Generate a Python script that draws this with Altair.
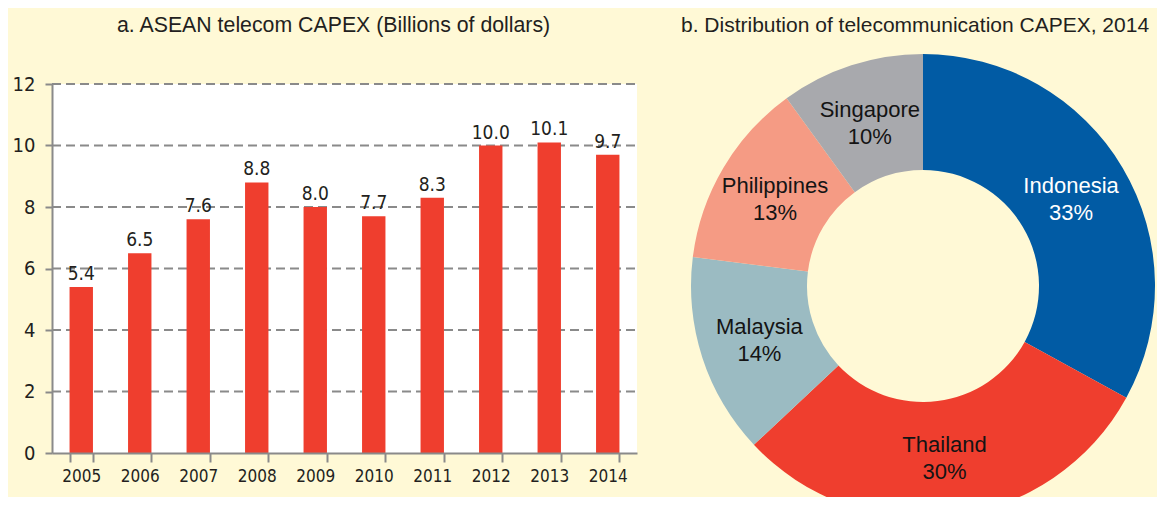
import altair as alt
import pandas as pd

# ---- data ----
years = ["2005", "2006", "2007", "2008", "2009", "2010", "2011", "2012", "2013", "2014"]
capex = [5.4, 6.5, 7.6, 8.8, 8.0, 7.7, 8.3, 10.0, 10.1, 9.7]
y_ticks = [0, 2, 4, 6, 8, 10, 12]
grid_values = [2, 4, 6, 8, 10, 12]

countries = ["Indonesia", "Thailand", "Malaysia", "Philippines", "Singapore"]
shares = [33, 30, 14, 13, 10]
country_colors = ["#015BA4", "#EF3E2E", "#9BBBC2", "#F59B84", "#A8A9AD"]
label_colors = ["#FFFFFF", "#141414", "#141414", "#141414", "#141414"]

title_a = "a. ASEAN telecom CAPEX (Billions of dollars)"
title_b = "b. Distribution of telecommunication CAPEX, 2014"

# ---- layout constants ----
W_BAR = 585
H = 369
TOTAL_W = 1105
CX, CY = 871, 202
R_OUT, R_IN = 232, 116
NARROW = "Liberation Sans Narrow, DejaVu Sans Condensed, Roboto, sans-serif"
SANS = "Liberation Sans, Arial, Helvetica, sans-serif"
TXT = "#231F20"
GRID = "#8A8A8A"

bars_df = pd.DataFrame({"year": years, "capex": capex})
grid_df = pd.DataFrame({"v": grid_values})
pie_df = pd.DataFrame({
    "country": countries,
    "share": shares,
    "ord": list(range(len(countries))),
    "label": [f"{c}\n{s}%" for c, s in zip(countries, shares)],
    "tcolor": label_colors,
})

y_scale = alt.Scale(domain=[0, 12], nice=False, zero=True)
x_scale = alt.Scale(domain=years, range=[0, W_BAR], paddingInner=0.6, paddingOuter=0.3)

y_axis = alt.Axis(title=None, values=y_ticks, grid=False, tickSize=7,
                  tickWidth=2, tickColor=GRID, domainColor=GRID, domainWidth=2,
                  labelFont=NARROW, labelFontSize=20, labelColor=TXT,
                  labelPadding=10, zindex=1)
x_axis = alt.Axis(title=None, labelAngle=0, tickBand="extent", tickSize=9,
                  tickWidth=2, tickColor=GRID, domainColor=GRID, domainWidth=2,
                  labelFont=NARROW, labelFontSize=17, labelColor=TXT,
                  labelPadding=6, zindex=1)

bg = alt.Chart(alt.Data(values=[{}])).mark_rect(color="white").encode(
    x=alt.value(0), x2=alt.value(W_BAR), y=alt.value(0), y2=alt.value(H)
)

grid = alt.Chart(grid_df).mark_rule(color=GRID, strokeWidth=2, strokeDash=[9, 5]).encode(
    y=alt.Y("v:Q", scale=y_scale, axis=y_axis),
    x=alt.value(0), x2=alt.value(W_BAR),
)

bars = alt.Chart(bars_df).mark_bar(color="#EF3E2E").encode(
    x=alt.X("year:N", scale=x_scale, sort=years, axis=x_axis),
    y=alt.Y("capex:Q", scale=y_scale, axis=y_axis),
)

bar_labels = alt.Chart(bars_df).mark_text(
    baseline="bottom", dy=-3, font=NARROW, fontSize=19, color=TXT
).encode(
    x=alt.X("year:N", scale=x_scale, sort=years, axis=x_axis),
    y=alt.Y("capex:Q", scale=y_scale, axis=y_axis),
    text=alt.Text("capex:Q", format=".1f"),
)

arcs = alt.Chart(pie_df).mark_arc(outerRadius=R_OUT, innerRadius=R_IN).encode(
    theta=alt.Theta("share:Q", stack=True),
    fill=alt.Fill("country:N", scale=alt.Scale(domain=countries, range=country_colors), legend=None),
    order=alt.Order("ord:Q"),
    x=alt.value(CX), y=alt.value(CY),
)

arc_labels = alt.Chart(pie_df).mark_text(
    radius=172, dy=-12, lineBreak="\n", font=SANS, fontSize=22, lineHeight=27, baseline="middle"
).encode(
    theta=alt.Theta("share:Q", stack=True),
    text="label:N",
    color=alt.Color("tcolor:N", scale=None),
    order=alt.Order("ord:Q"),
    x=alt.value(CX), y=alt.value(CY),
)

t_a = alt.Chart(alt.Data(values=[{"t": title_a}])).mark_text(
    align="left", baseline="alphabetic", font=SANS, fontSize=21.3, color=TXT
).encode(text="t:N", x=alt.value(65), y=alt.value(-52))

t_b = alt.Chart(alt.Data(values=[{"t": title_b}])).mark_text(
    align="left", baseline="alphabetic", font=SANS, fontSize=21, color=TXT
).encode(text="t:N", x=alt.value(629), y=alt.value(-52))

chart = alt.layer(bg, grid, bars, bar_labels, arcs, arc_labels, t_a, t_b).properties(
    width=TOTAL_W, height=H,
    autosize=alt.AutoSizeParams(type="none"),
    padding={"left": 44, "top": 76, "right": 0, "bottom": 44},
    background="#FFF9D6",
).configure_view(strokeWidth=0)

chart.save("out.html", embed_options={"renderer": "svg", "actions": False})
